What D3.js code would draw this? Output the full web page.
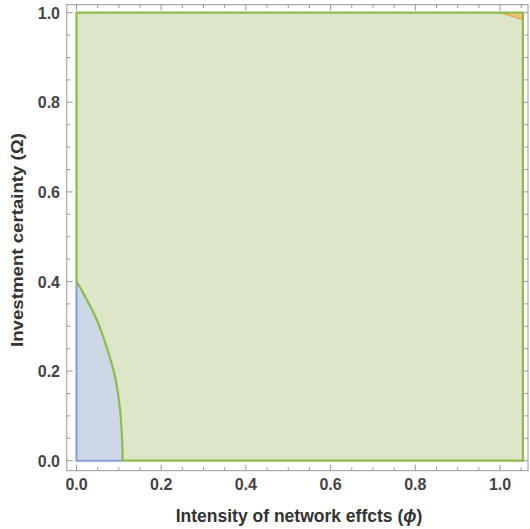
<!DOCTYPE html>
<html>
<head>
<meta charset="utf-8">
<script src="https://cdn.jsdelivr.net/npm/d3@7"></script>
<style>
  body { margin: 0; background: #fff; }
  text { font-family: "Liberation Sans", Arial, sans-serif; }
</style>
</head>
<body>
<div id="chart"></div>
<script>
// Regions in the (phi, Omega) plane

const xTicks = [0, 0.2, 0.4, 0.6, 0.8, 1.0];
const yTicks = [0, 0.2, 0.4, 0.6, 0.8, 1.0];
const minorStep = 0.05;

// outer (green) region
const regionPhi = [0, 1.054];
const regionOmega = [0, 1.0];

// boundary of the blue region (phi, Omega)
const boundaryPhi   = [0,   0.016, 0.048, 0.071, 0.091,  0.103, 0.108, 0.109];
const boundaryOmega = [0.4, 0.374, 0.314, 0.254, 0.1875, 0.113, 0.039, 0];

// small orange corner region
const cornerPhi   = [1.0, 1.054, 1.054];
const cornerOmega = [1.0, 1.0, 0.985];

const width = 530, height = 529;

let svg = d3.select("#chart")
    .append("svg")
    .attr("width", width)
    .attr("height", height);

let x = d3.scaleLinear().domain([0, 1]).range([76.5, 500]);
let y = d3.scaleLinear().domain([0, 1]).range([460.7, 12.7]);

const frame = {x0: x(-0.023), x1: 528, y0: y(1.018), y1: y(-0.0223)};

// green region
svg.append("rect")
    .attr("x", x(regionPhi[0]))
    .attr("y", y(regionOmega[1]))
    .attr("width", x(regionPhi[1]) - x(regionPhi[0]))
    .attr("height", y(regionOmega[0]) - y(regionOmega[1]))
    .attr("fill", "#dde6c6");

const pts = boundaryPhi.map((p, i) => [p, boundaryOmega[i]]);
const curve = d3.line().x(d => x(d[0])).y(d => y(d[1])).curve(d3.curveCatmullRom);

// blue region
svg.append("path")
    .attr("d", curve(pts) + `L${x(0)},${y(0)}Z`)
    .attr("fill", "#cdd7e8");

// orange corner
svg.append("path")
    .attr("d", d3.line().x(d => x(d[0])).y(d => y(d[1]))(cornerPhi.map((p, i) => [p, cornerOmega[i]])) + "Z")
    .attr("fill", "#f2c27a")
    .attr("stroke", "#e8a33a")
    .attr("stroke-width", 1.2);

// green boundary lines
const green = "#8fba4e", blue = "#7f9fd2";
svg.append("path")
    .attr("d", `M${x(0)},${y(boundaryOmega[0])}L${x(0)},${y(regionOmega[1])}L${x(regionPhi[1])},${y(regionOmega[1])}L${x(regionPhi[1])},${y(0)}L${x(boundaryPhi[boundaryPhi.length-1])},${y(0)}`)
    .attr("fill", "none")
    .attr("stroke", green)
    .attr("stroke-width", 2.2);

svg.append("path")
    .attr("d", `M${x(0)},${y(boundaryOmega[0])}L${x(0)},${y(0)}L${x(boundaryPhi[boundaryPhi.length-1])},${y(0)}`)
    .attr("fill", "none")
    .attr("stroke", blue)
    .attr("stroke-width", 2);

svg.append("path")
    .attr("d", curve(pts))
    .attr("fill", "none")
    .attr("stroke", green)
    .attr("stroke-width", 2.2);

// frame
svg.append("rect")
    .attr("x", frame.x0)
    .attr("y", frame.y0)
    .attr("width", frame.x1 - frame.x0)
    .attr("height", frame.y1 - frame.y0)
    .attr("fill", "none")
    .attr("stroke", "#999")
    .attr("stroke-width", 1);

// ticks (inward, on all four sides)
const minor = d3.range(0, 1.0501, minorStep).filter(v => !xTicks.some(t => Math.abs(t - v) < 1e-6));
const tickG = svg.append("g").attr("stroke", "#999").attr("stroke-width", 1);
function xTick(v, len) {
    tickG.append("line").attr("x1", x(v)).attr("x2", x(v)).attr("y1", frame.y1).attr("y2", frame.y1 - len);
    tickG.append("line").attr("x1", x(v)).attr("x2", x(v)).attr("y1", frame.y0).attr("y2", frame.y0 + len);
}
function yTick(v, len) {
    tickG.append("line").attr("y1", y(v)).attr("y2", y(v)).attr("x1", frame.x0).attr("x2", frame.x0 + len);
    tickG.append("line").attr("y1", y(v)).attr("y2", y(v)).attr("x1", frame.x1).attr("x2", frame.x1 - len);
}
xTicks.forEach(v => xTick(v, 6));
minor.forEach(v => xTick(v, 3.5));
yTicks.forEach(v => yTick(v, 6));
minor.filter(v => v < 1.01).forEach(v => yTick(v, 3.5));

// tick labels
svg.append("g").selectAll("text")
    .data(xTicks)
    .join("text")
    .attr("x", d => x(d))
    .attr("y", 490)
    .attr("text-anchor", "middle")
    .attr("font-size", 16)
    .attr("font-weight", "bold")
    .attr("fill", "#444")
    .text(d => d3.format(".1f")(d));

svg.append("g").selectAll("text")
    .data(yTicks)
    .join("text")
    .attr("x", 60)
    .attr("y", d => y(d) + 6)
    .attr("text-anchor", "end")
    .attr("font-size", 16)
    .attr("font-weight", "bold")
    .attr("fill", "#444")
    .text(d => d3.format(".1f")(d));

// axis titles
let xt = svg.append("text")
    .attr("x", 299)
    .attr("y", 522)
    .attr("text-anchor", "middle")
    .attr("font-size", 17.5)
    .attr("font-weight", "bold")
    .attr("fill", "#333");
xt.append("tspan").text("Intensity of network effcts (");
xt.append("tspan").attr("font-style", "italic").text("ϕ");
xt.append("tspan").text(")");

svg.append("text")
    .attr("transform", "translate(23,240) rotate(-90)")
    .attr("text-anchor", "middle")
    .attr("font-size", 17)
    .attr("font-weight", "bold")
    .attr("fill", "#333")
    .attr("textLength", 214)
    .attr("lengthAdjust", "spacingAndGlyphs")
    .text("Investment certainty (Ω)");
</script>
</body>
</html>
